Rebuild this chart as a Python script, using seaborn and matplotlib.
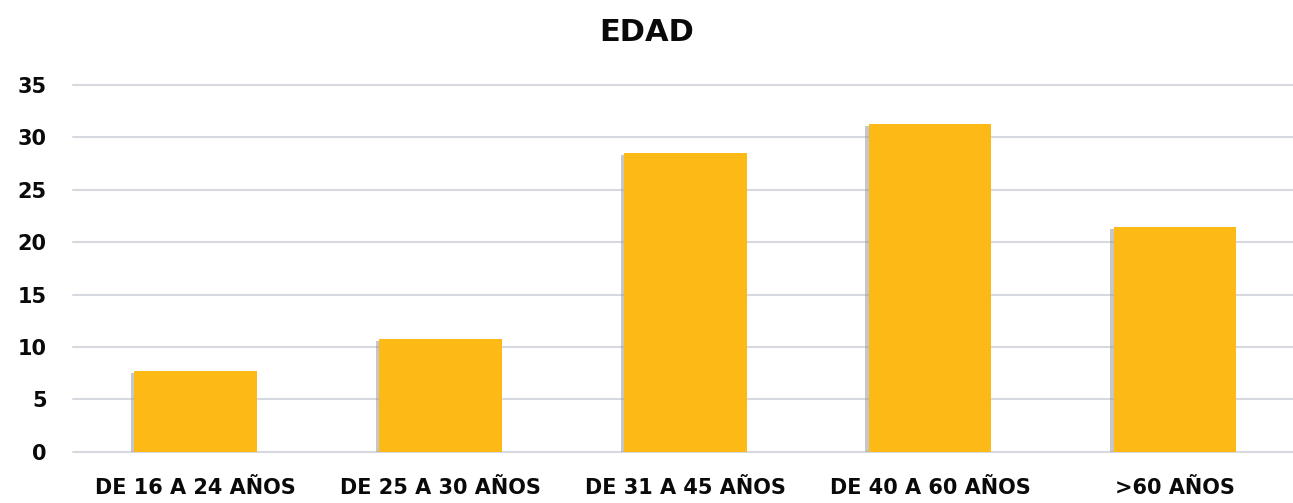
import matplotlib
matplotlib.use("Agg")
import matplotlib.pyplot as plt
import matplotlib.patheffects as pe
import seaborn as sns
import pandas as pd

categories = ["DE 16 A 24 AÑOS", "DE 25 A 30 AÑOS", "DE 31 A 45 AÑOS", "DE 40 A 60 AÑOS", ">60 AÑOS"]
values = [7.7, 10.75, 28.55, 31.25, 21.45]
yticks = [0, 5, 10, 15, 20, 25, 30, 35]
title = "EDAD"

sns.set_theme(style="white")
plt.rcParams['font.family'] = ['DejaVu Sans']

df = pd.DataFrame({"cat": categories, "val": values})

fig = plt.figure(figsize=(12.93, 5.03), dpi=100)
ax = fig.add_axes([0.0565, 0.102, 0.947, 0.729])

sns.barplot(data=df, x="cat", y="val", color="#FDBA16", saturation=1, width=0.5,
            linewidth=0, edgecolor="none", ax=ax, zorder=3)
for p in ax.patches:
    p.set_path_effects([pe.SimplePatchShadow(offset=(-2.5, -1.5), shadow_rgbFace="#9A9A9A", alpha=0.55), pe.Normal()])

ax.set_ylim(0, 35)
ax.set_xlim(-0.5, 4.5)
ax.set_yticks(yticks)
ax.yaxis.grid(True, color="#D6DAE0", linewidth=1.5, zorder=0)
ax.set_axisbelow(True)
for gl in ax.get_ygridlines():
    gl.set_clip_on(False)
for s in ax.spines.values():
    s.set_visible(False)
ax.set_xlabel("")
ax.set_ylabel("")
ax.tick_params(axis="y", length=0, pad=19, labelsize=15, labelcolor="#0A0A0A")
ax.tick_params(axis="x", length=0, pad=19, labelsize=15, labelcolor="#0A0A0A")
for t in ax.get_xticklabels() + ax.get_yticklabels():
    t.set_fontweight("bold")

fig.text(0.5, 0.935, title, ha="center", va="center", fontsize=22, fontweight="bold", color="#0A0A0A")

fig.savefig("out.png", dpi=100, facecolor="white")
